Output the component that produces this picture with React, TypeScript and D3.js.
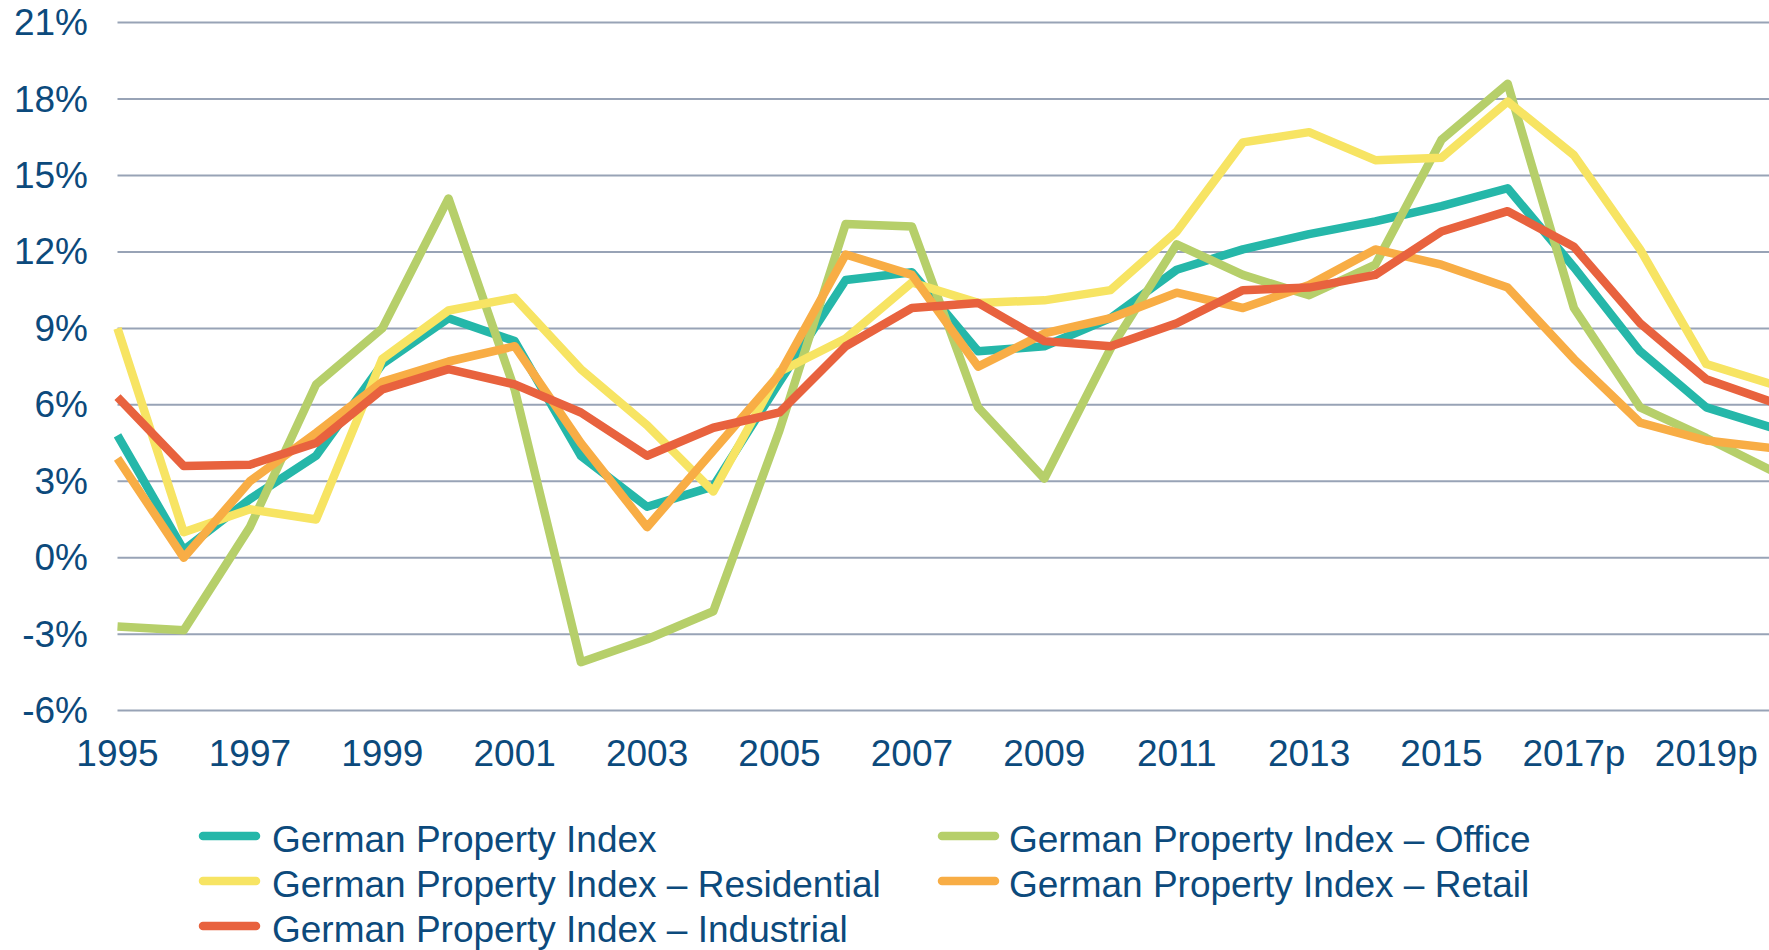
import React from "react";
import * as d3 from "d3";

const categories = [
  "1995","1996","1997","1998","1999","2000","2001","2002","2003","2004",
  "2005","2006","2007","2008","2009","2010","2011","2012","2013","2014",
  "2015","2016","2017p","2018p","2019p","2020p",
];
const tickLabels = ["1995","1997","1999","2001","2003","2005","2007","2009","2011","2013","2015","2017p","2019p"];
const yTicks = [-6, -3, 0, 3, 6, 9, 12, 15, 18, 21];

const gpi = [4.8,0.3,2.3,4.0,7.6,9.4,8.5,4.0,2.0,2.8,6.9,10.9,11.2,8.1,8.3,9.4,11.3,12.1,12.7,13.2,13.8,14.5,11.4,8.1,5.9,5.1];
const office = [-2.7,-2.85,1.2,6.8,9.0,14.1,6.6,-4.1,-3.2,-2.1,5.0,13.1,13.0,5.9,3.1,8.2,12.3,11.1,10.3,11.5,16.4,18.6,9.8,5.9,4.7,3.4];
const residential = [9.0,1.0,1.9,1.5,7.8,9.7,10.2,7.4,5.2,2.6,7.3,8.6,10.8,10.0,10.1,10.5,12.8,16.3,16.7,15.6,15.7,17.9,15.8,12.1,7.6,6.8];
const retail = [3.9,0.0,3.0,4.9,6.9,7.7,8.3,4.5,1.2,4.2,7.2,11.9,11.1,7.5,8.8,9.4,10.4,9.8,10.7,12.1,11.5,10.6,7.8,5.3,4.6,4.3];
const industrial = [6.3,3.6,3.65,4.5,6.6,7.4,6.8,5.7,4.0,5.1,5.7,8.3,9.8,10.0,8.5,8.3,9.2,10.5,10.6,11.1,12.8,13.6,12.2,9.2,7.0,6.1];

const seriesNames = [
  "German Property Index",
  "German Property Index – Office",
  "German Property Index – Residential",
  "German Property Index – Retail",
  "German Property Index – Industrial",
];
const seriesValues = [gpi, office, residential, retail, industrial];
const seriesColors = ["#25b7a9", "#b6cf6a", "#f7e463", "#f8ad45", "#e8623e"];

const W = 1769;
const H = 950;
const TEXT = "#0c4a7c";
const FONT = "'Liberation Sans', Arial, Helvetica, sans-serif";

export default function App() {
  const x = d3.scalePoint<string>().domain(categories).range([117.5, 1772.5]);
  const y = d3.scaleLinear().domain([-6, 21]).range([710.6, 22.6]);
  const line = d3
    .line<number>()
    .x((_, i) => x(categories[i]) as number)
    .y((d) => y(d));

  const legendPos = [
    { sx: 199, tx: 272, row: 0 },
    { sx: 938, tx: 1009, row: 0 },
    { sx: 199, tx: 272, row: 1 },
    { sx: 938, tx: 1009, row: 1 },
    { sx: 199, tx: 272, row: 2 },
  ];

  return (
    <svg
      width={W}
      height={H}
      style={{ position: "absolute", left: 0, top: 0, background: "#fff" }}
      fontFamily={FONT}
    >
      <rect x={0} y={0} width={W} height={H} fill="#fff" />
      {yTicks.map((t) => (
        <g key={t}>
          <line x1={117.5} x2={W} y1={y(t)} y2={y(t)} stroke="#98a3b6" strokeWidth={2} />
          <text
            x={88}
            y={y(t)}
            textAnchor="end"
            dominantBaseline="central"
            fontSize={37}
            fill={TEXT}
          >
            {t}%
          </text>
        </g>
      ))}
      {tickLabels.map((c) => (
        <text key={c} x={x(c)} y={766} textAnchor="middle" fontSize={37} fill={TEXT}>
          {c}
        </text>
      ))}
      {seriesValues.map((vals, i) => (
        <path
          key={seriesNames[i]}
          d={line(vals) || ""}
          fill="none"
          stroke={seriesColors[i]}
          strokeWidth={8.5}
          strokeLinejoin="round"
          strokeLinecap="butt"
        />
      ))}
      {seriesNames.map((name, i) => {
        const p = legendPos[i];
        const cy = 836 + p.row * 45;
        return (
          <g key={name}>
            <line
              x1={p.sx + 4}
              x2={p.sx + 57}
              y1={cy}
              y2={cy}
              stroke={seriesColors[i]}
              strokeWidth={8.5}
              strokeLinecap="round"
            />
            <text x={p.tx} y={cy + 16} fontSize={37} fill={TEXT}>
              {name}
            </text>
          </g>
        );
      })}
    </svg>
  );
}
